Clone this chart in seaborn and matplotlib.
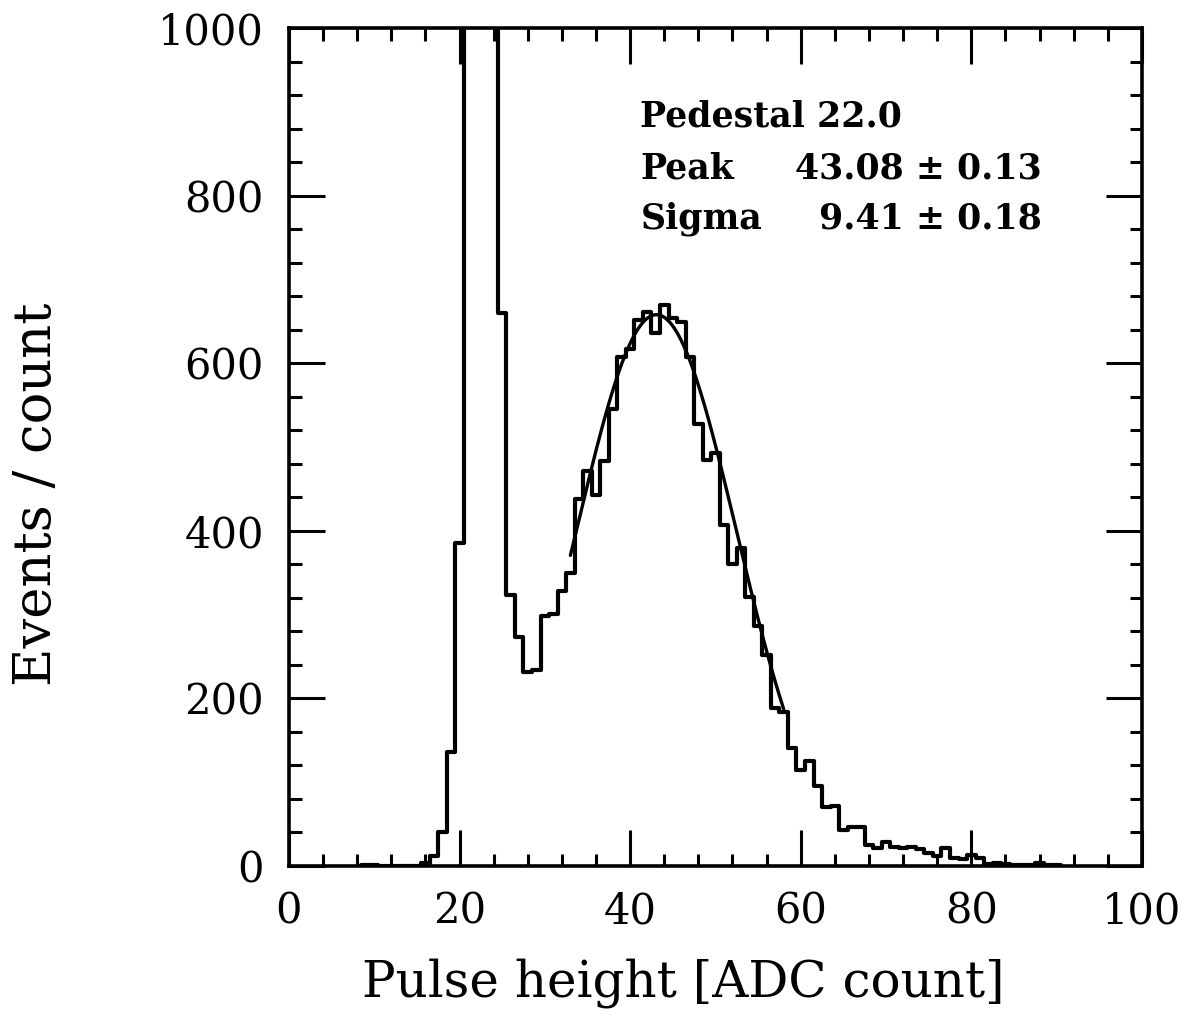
import numpy as np
import pandas as pd
import matplotlib
matplotlib.use("Agg")
import matplotlib.pyplot as plt
from matplotlib.ticker import MultipleLocator
import seaborn as sns

sns.set_style("ticks")
plt.rcParams['font.family'] = ['DejaVu Serif']
plt.rcParams['text.color'] = 'black'
plt.rcParams['axes.labelcolor'] = 'black'

# ADC channel (bin centre) and events per channel
adc = list(range(9, 91))
events = [1, 1, 0, 0, 0, 0, 0, 3, 12, 40, 136, 385,
          2400, 5200, 3600, 1500,          # pedestal spike, off scale
          660, 324, 273, 232, 234, 298, 301, 328, 350, 438,
          471, 443, 483, 545, 607, 617, 652, 661, 636, 669,
          654, 649, 608, 527, 485, 493, 407, 361, 380, 321,
          287, 252, 189, 184, 141, 115, 125, 95, 70, 72,
          43, 47, 46, 25, 21, 29, 23, 21, 23, 20,
          16, 12, 21, 9, 8, 13, 10, 2, 3, 2,
          1, 1, 1, 3, 1, 1]

# gaussian fit as printed on the plot
pedestal = 22.0
peak, peak_err = 43.08, 0.13
sigma, sigma_err = 9.41, 0.18
amp = 658
fit_lo, fit_hi = 33, 58

df = pd.DataFrame({"adc": adc, "events": events})
edges = [a - 0.5 for a in adc] + [adc[-1] + 0.5]

fig = plt.figure(figsize=(11.84, 10.23), dpi=100)
ax = fig.add_axes([0.244, 0.1535, 0.7205, 0.819])

sns.histplot(data=df, x="adc", weights="events", bins=edges,
             element="step", fill=False, color="black", linewidth=3.0, ax=ax)

xf = np.linspace(fit_lo, fit_hi, 200)
yf = amp * np.exp(-0.5 * ((xf - peak) / sigma) ** 2)
sns.lineplot(x=xf, y=yf, color="black", linewidth=2.4, ax=ax)

ax.set_xlim(0, 100)
ax.set_ylim(0, 1000)
ax.xaxis.set_major_locator(MultipleLocator(20))
ax.xaxis.set_minor_locator(MultipleLocator(4))
ax.yaxis.set_major_locator(MultipleLocator(200))
ax.yaxis.set_minor_locator(MultipleLocator(40))
ax.tick_params(which="both", direction="in", top=True, right=True,
               width=2.2, labelsize=30, pad=18, colors="black")
ax.tick_params(which="major", length=26)
ax.tick_params(which="minor", length=9)
for s in ax.spines.values():
    s.set_linewidth(2.6)
    s.set_color("black")

ax.set_xlabel("Pulse height [ADC count]", fontsize=36)
ax.set_ylabel("Events / count", fontsize=38)
ax.xaxis.set_label_coords(0.4625, -0.110)
ax.yaxis.set_label_coords(-0.266, 0.443)

tx, tr = 41.2, 88.3
fs = 25
ax.text(tx, 882, f"Pedestal {pedestal:.1f}", fontsize=fs, fontweight="bold")
ax.text(tx, 821, "Peak", fontsize=fs, fontweight="bold")
ax.text(tr, 821, f"{peak:.2f} \u00b1 {peak_err:.2f}", fontsize=fs,
        fontweight="bold", ha="right")
ax.text(tx, 761, "Sigma", fontsize=fs, fontweight="bold")
ax.text(tr, 761, f"{sigma:.2f} \u00b1 {sigma_err:.2f}", fontsize=fs,
        fontweight="bold", ha="right")

fig.savefig("out.png", dpi=100)
